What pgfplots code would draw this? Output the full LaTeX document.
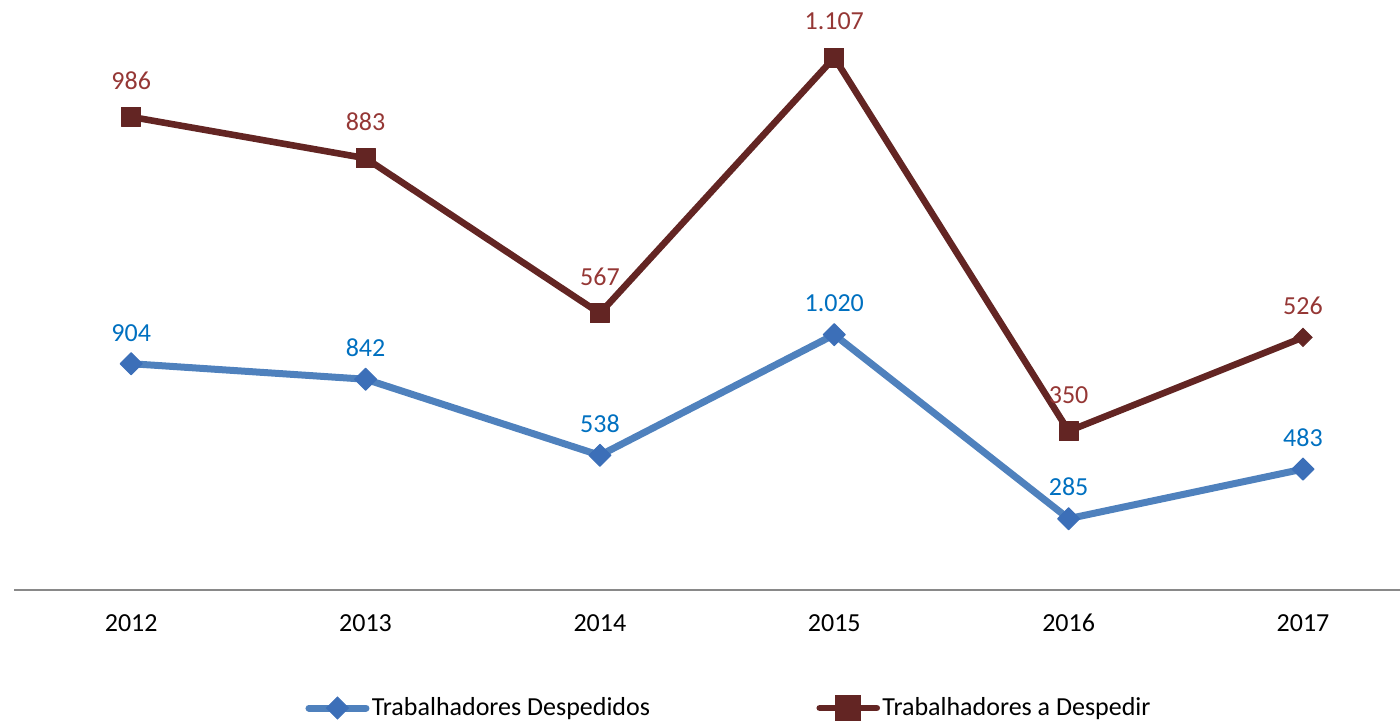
\documentclass[border=0pt]{standalone}
\usepackage{pgfplots}
\usepackage{pgfplotstable}
\pgfplotsset{compat=1.18}
\usepackage{fontspec}
\setmainfont{Carlito}
\definecolor{bline}{HTML}{4F81BD}
\definecolor{bmark}{HTML}{3C6FB8}
\definecolor{blab}{HTML}{0070C0}
\definecolor{rline}{HTML}{632523}
\definecolor{rlab}{HTML}{953735}
\definecolor{axgray}{HTML}{898989}

\pgfplotstableread{
x y lab
0 904 904
1 842 842
2 538 538
3 1020 1.020
4 285 285
5 483 483
}\despedidos
\pgfplotstableread{
x y lab
0 986 986
1 883 883
2 567 567
3 1107 1.107
4 350 350
5 526 526
}\adespedir
% zero increments: only place the last (diamond) marker and its label on top of the stacked series
\pgfplotstableread{
x y lab
0 0 986
1 0 883
2 0 567
3 0 1.107
4 0 350
5 0 526
}\zeros

\newcommand{\lblfont}{\fontsize{13}{15}\selectfont}

\begin{document}
\begin{tikzpicture}
\begin{axis}[
  at={(7pt,66.5pt)}, anchor=south west,
  scale only axis, width=693pt, height=295pt,
  xmin=-0.5, xmax=5.414, ymin=0, ymax=2357,
  stack plots=y,
  clip=false,
  axis y line=none,
  axis x line=bottom,
  x axis line style={axgray, line width=1pt, -},
  xtick={0,1,2,3,4,5},
  xticklabels={2012,2013,2014,2015,2016,2017},
  major tick length=0pt,
  ytick=\empty,
  /pgf/number format/assume math mode=true,
  xticklabel style={font=\lblfont, inner sep=0pt, anchor=north, yshift=-12pt, text=black},
  legend columns=2,
  legend style={draw=none, fill=none, at={(0.516,-0.2)}, anchor=center,
    font=\lblfont, nodes={inner sep=1.2pt},
    /tikz/every even column/.append style={column sep=82pt}},
  legend cell align=left,
]
\addlegendimage{bline, line width=3.5pt,
  legend image code/.code={
    \draw[line cap=round] (0pt,0pt) -- (28.5pt,0pt);
    \path[fill=bmark, draw=bmark, line width=0.5pt] (14.25pt,0pt) +(0,5.5pt) -- +(5.5pt,0) -- +(0,-5.5pt) -- +(-5.5pt,0) -- cycle;
  }}
\addlegendimage{rline, line width=3.3pt,
  legend image code/.code={
    \draw[line cap=round] (0pt,0pt) -- (28.5pt,0pt);
    \path[fill=rline] (14.25pt,0pt) +(-4.75pt,-4.75pt) rectangle +(4.75pt,4.75pt);
  }}

\addplot[bline, line width=3.5pt, line join=round,
  mark=square*, mark size=3.9pt,
  mark options={rotate=45, fill=bmark, draw=bmark, line width=0.5pt},
  point meta=explicit symbolic,
  nodes near coords,
  nodes near coords style={text=blab, font=\lblfont, anchor=south, inner sep=0pt, yshift=11pt}]
  table[x=x, y=y, meta=lab] {\despedidos};

\addplot[rline, line width=3.3pt, line join=round,
  mark=square*, mark size=4.75pt, mark indices={1,2,3,4,5},
  mark options={fill=rline, draw=rline, line width=0.5pt},
  point meta=explicit symbolic,
  nodes near coords,
  nodes near coords style={text=rlab, font=\lblfont, anchor=south, inner sep=0pt, yshift=13.5pt}]
  table[x=x, y=y, meta=lab] {\adespedir};

\addplot[draw=none, only marks,
  mark=square*, mark size=3.2pt, mark indices={6},
  mark options={rotate=45, fill=rline, draw=rline, line width=0.5pt},
  point meta=explicit symbolic,
  nodes near coords,
  nodes near coords style={text=rlab, font=\lblfont, anchor=south, inner sep=0pt, yshift=11pt}]
  table[x=x, y=y, meta=lab] {\zeros};

\legend{Trabalhadores Despedidos, Trabalhadores a Despedir}
\end{axis}
\pgfresetboundingbox
\path[use as bounding box] (0pt,0pt) rectangle (700pt,361.5pt);
\end{tikzpicture}
\end{document}
